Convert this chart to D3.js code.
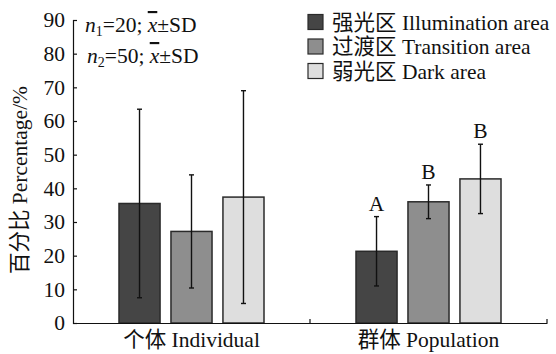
<!DOCTYPE html>
<html>
<head>
<meta charset="utf-8">
<script src="https://cdn.jsdelivr.net/npm/d3@7"></script>
<style>
  body { margin: 0; background: #fff; }
  text { font-family: "Liberation Serif", "Noto Sans CJK SC", serif; fill: #111; }
</style>
</head>
<body>
<div id="chart"></div>
<script>
const groups = ['个体 Individual', '群体 Population']
const series = ['强光区 Illumination area', '过渡区 Transition area', '弱光区 Dark area']
const colors = ['#454545', '#8e8e8e', '#dedede']
// means and SD per group, order follows series
const means = [
  [35.5, 27.2, 37.4],
  [21.3, 36.0, 42.8]
]
const sds = [
  [28.0, 16.8, 31.6],
  [10.3, 5.0, 10.3]
]
const letters = [
  ['', '', ''],
  ['A', 'B', 'B']
]
const yTicks = [0, 10, 20, 30, 40, 50, 60, 70, 80, 90]

const width = 556
const height = 354
const margin = { top: 20, right: 9, bottom: 31, left: 73 }
const fs = '21.5px'

const svg = d3.select('#chart')
  .append('svg')
  .attr('width', width)
  .attr('height', height)

const y = d3.scaleLinear()
  .domain([0, 90])
  .range([height - margin.bottom, margin.top])

const x0 = d3.scaleBand()
  .domain(groups)
  .range([margin.left, width - margin.right])

const x1 = d3.scaleBand()
  .domain(series)
  .range([0, x0.bandwidth()])
  .paddingInner(0.21)
  .paddingOuter(0.885)

const data = []
groups.forEach((g, gi) => {
  series.forEach((s, si) => {
    data.push({ g, s, si, mean: means[gi][si], sd: sds[gi][si], letter: letters[gi][si] })
  })
})

// bars
svg.selectAll('.bar')
  .data(data)
  .enter()
  .append('rect')
  .attr('class', 'bar')
  .attr('x', d => x0(d.g) + x1(d.s))
  .attr('y', d => y(d.mean))
  .attr('width', x1.bandwidth())
  .attr('height', d => y(0) - y(d.mean))
  .attr('fill', d => colors[d.si])
  .attr('stroke', '#2a2a2a')
  .attr('stroke-width', 1.5)

// error bars
const cx = d => x0(d.g) + x1(d.s) + x1.bandwidth() / 2
const err = svg.append('g').attr('stroke', '#111').attr('stroke-width', 1.4)
data.forEach(d => {
  const lo = Math.max(0, d.mean - d.sd)
  const hi = d.mean + d.sd
  err.append('line').attr('x1', cx(d)).attr('x2', cx(d)).attr('y1', y(lo)).attr('y2', y(hi))
  err.append('line').attr('x1', cx(d) - 2.5).attr('x2', cx(d) + 2.5).attr('y1', y(lo)).attr('y2', y(lo))
  err.append('line').attr('x1', cx(d) - 2.5).attr('x2', cx(d) + 2.5).attr('y1', y(hi)).attr('y2', y(hi))
})

// significance letters
svg.selectAll('.letter')
  .data(data.filter(d => d.letter))
  .enter()
  .append('text')
  .attr('class', 'letter')
  .attr('x', cx)
  .attr('y', d => y(d.mean + d.sd) - 6)
  .attr('text-anchor', 'middle')
  .style('font-size', fs)
  .text(d => d.letter)

// y axis
const yAxis = svg.append('g')
  .attr('transform', 'translate(' + margin.left + ',0)')
  .call(d3.axisLeft(y).tickValues(yTicks).tickSize(-4).tickPadding(8))
yAxis.select('.domain').attr('stroke', '#111').attr('stroke-width', 1.2)
yAxis.selectAll('.tick line').attr('stroke', '#111').attr('stroke-width', 1.2)
yAxis.selectAll('.tick text')
  .style('font-size', fs)
  .style('font-family', '"Liberation Serif", serif')
  .attr('fill', '#111')

// x axis
const xAxis = svg.append('g')
  .attr('transform', 'translate(0,' + y(0) + ')')
  .call(d3.axisBottom(x0).tickSize(0).tickPadding(9).tickSizeOuter(0))
xAxis.select('.domain').attr('stroke', '#111').attr('stroke-width', 1.2)
xAxis.selectAll('.tick text')
  .style('font-size', fs)
  .attr('fill', '#111')
  .attr('dy', '0.71em')
// group boundary ticks
groups.forEach(g => {
  xAxis.append('line')
    .attr('x1', x0(g) + x0.bandwidth()).attr('x2', x0(g) + x0.bandwidth())
    .attr('y1', 0).attr('y2', -4)
    .attr('stroke', '#111').attr('stroke-width', 1.2)
})

// y label
svg.append('text')
  .attr('transform', 'translate(27,' + 180 + ') rotate(-90)')
  .attr('text-anchor', 'middle')
  .style('font-size', fs)
  .text('百分比 Percentage/%')

// sample size notes
const notes = [['1', '20', 85, 32], ['2', '50', 87, 63]]
notes.forEach(n => {
  const t = svg.append('text')
    .attr('x', n[2])
    .attr('y', n[3])
    .style('font-size', fs)
  t.append('tspan').style('font-style', 'italic').text('n')
  t.append('tspan').attr('dy', 4).style('font-size', '14px').text(n[0])
  t.append('tspan').attr('dy', -4).text('=' + n[1] + '; ')
  t.append('tspan').style('font-style', 'italic').style('text-decoration', 'overline').text('x')
  t.append('tspan').text('±SD')
})

// legend
const legend = svg.append('g')
series.forEach((s, i) => {
  const ly = 22 + i * 24.5
  legend.append('rect')
    .attr('x', 308).attr('y', ly - 7.5)
    .attr('width', 15).attr('height', 15)
    .attr('fill', colors[i])
    .attr('stroke', '#2a2a2a').attr('stroke-width', 1.2)
  legend.append('text')
    .attr('x', 332).attr('y', ly)
    .attr('dy', '0.35em')
    .style('font-size', fs)
    .text(s)
})
</script>
</body>
</html>
